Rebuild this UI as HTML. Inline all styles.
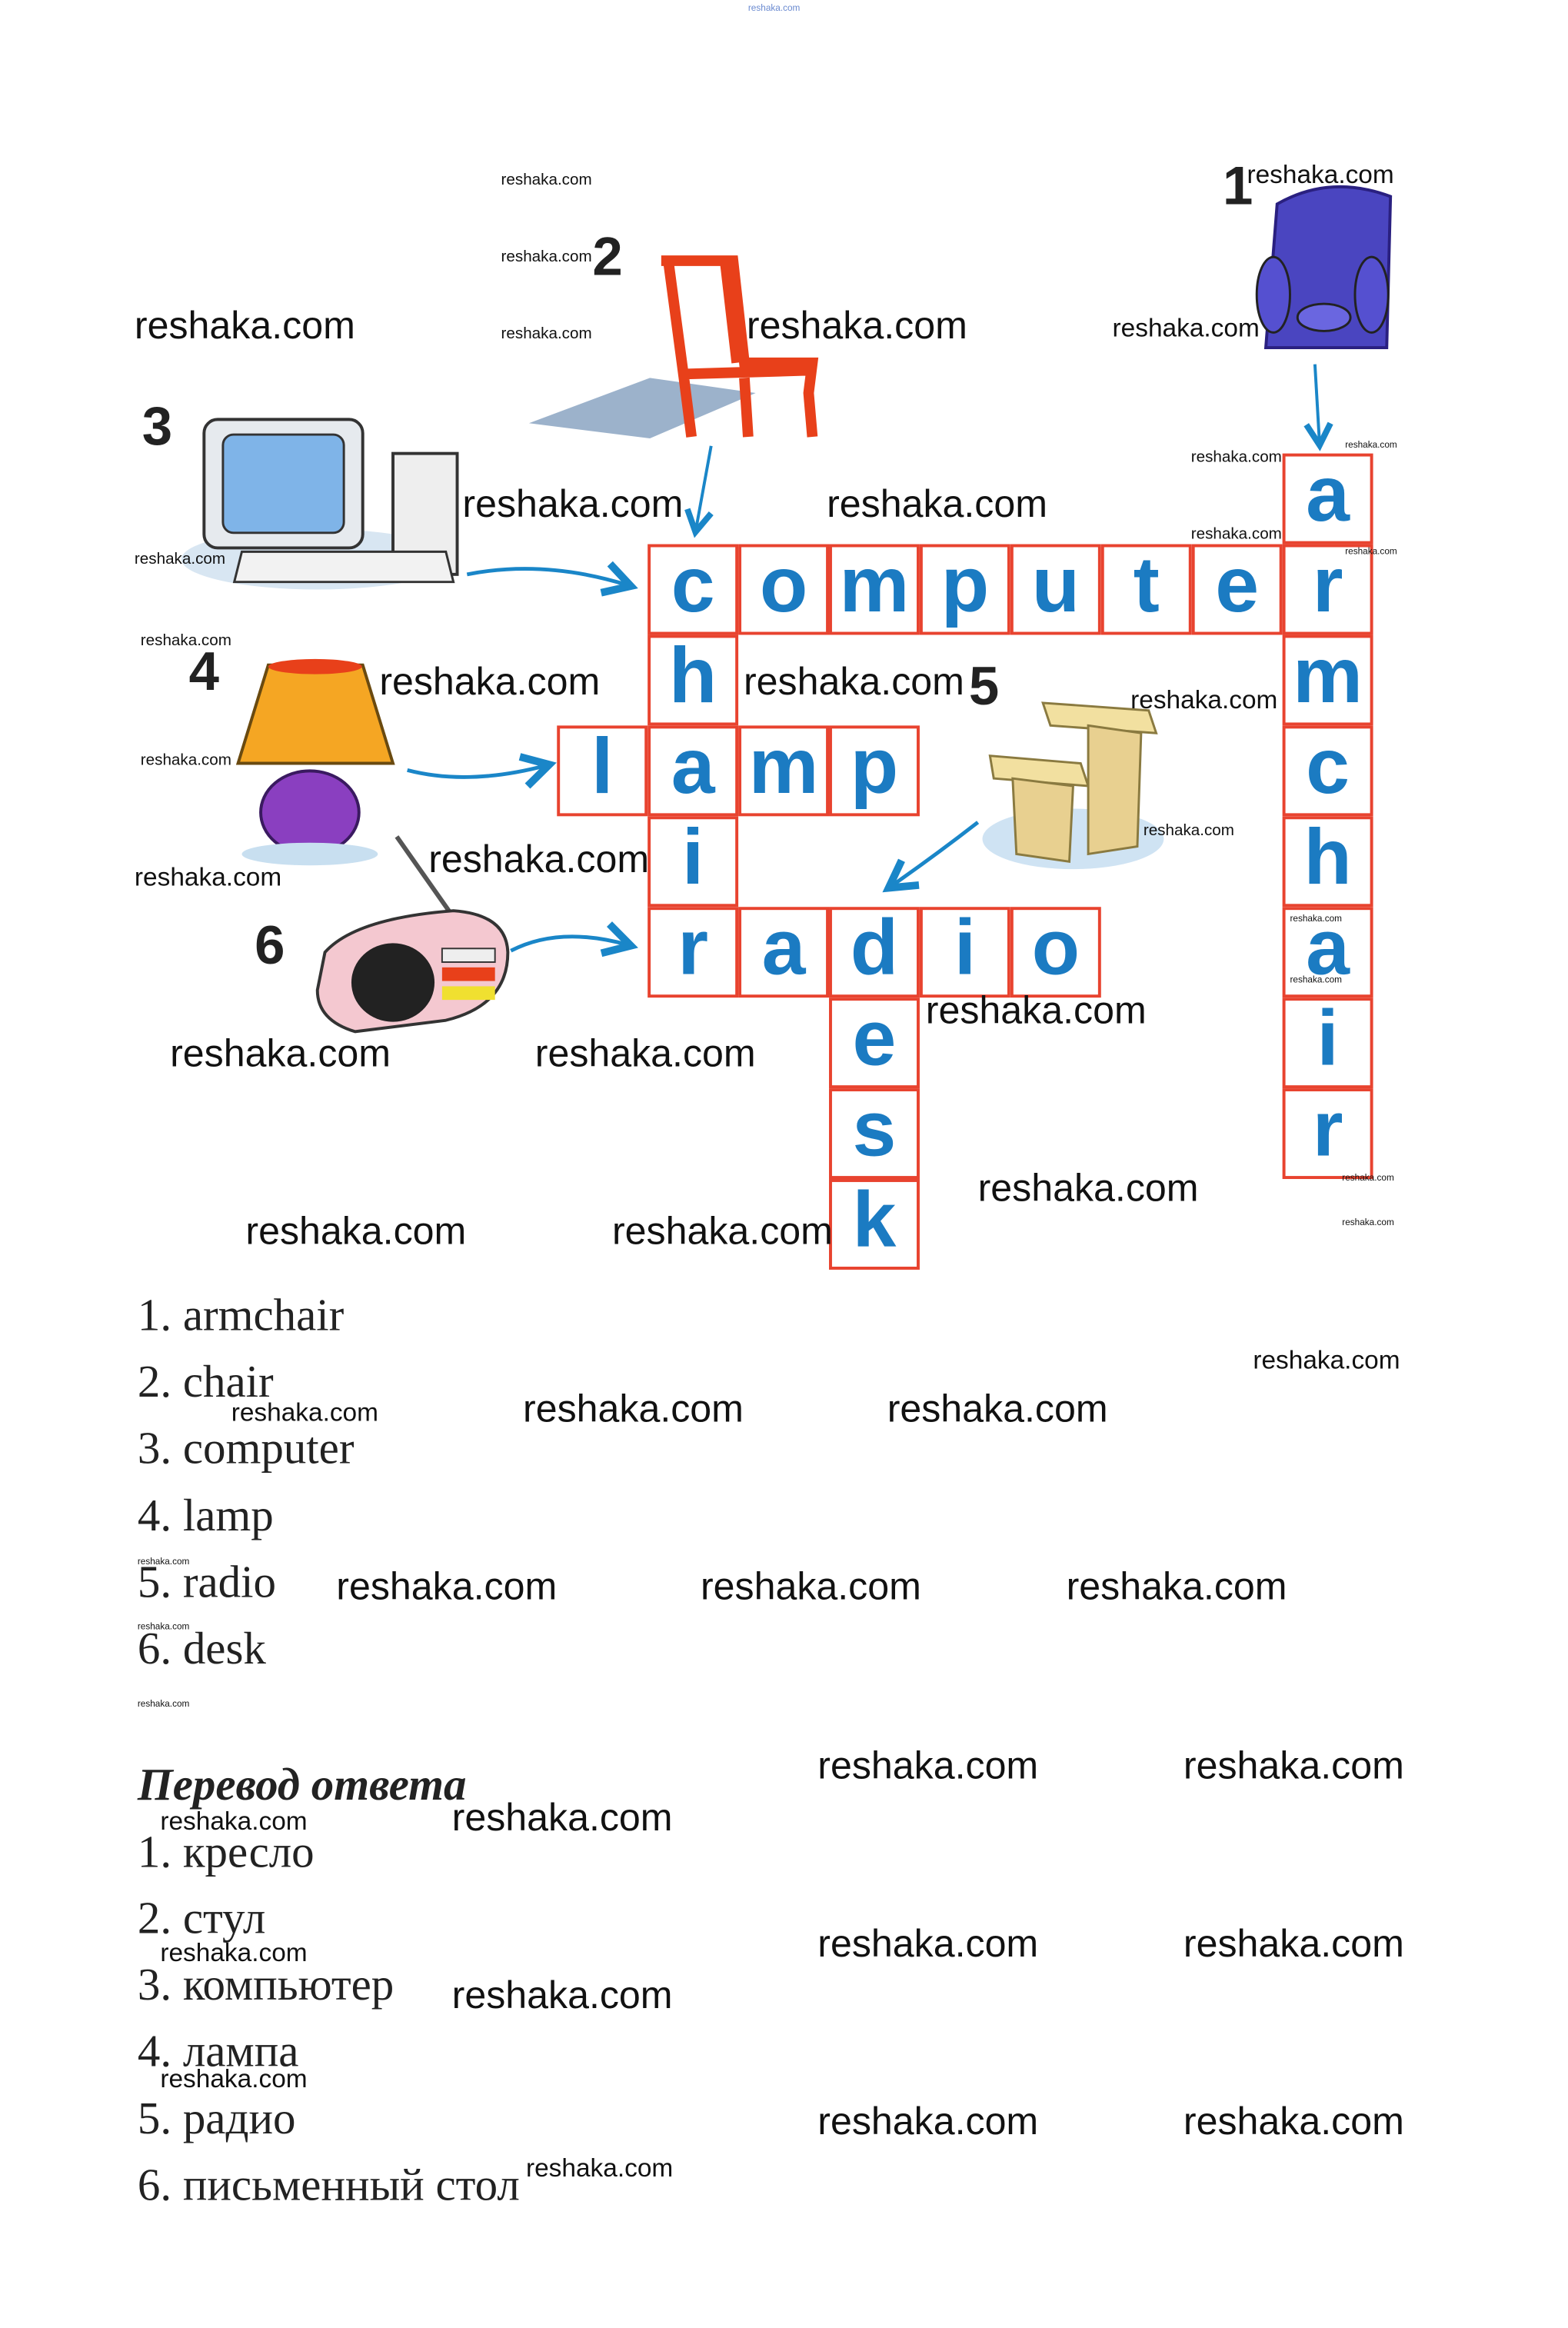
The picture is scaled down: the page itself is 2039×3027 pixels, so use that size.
<!DOCTYPE html>
<html><head><meta charset="utf-8"><style>
body{margin:0;width:2039px;height:3026px;background:#fff;position:relative;overflow:hidden;font-family:"Liberation Sans",sans-serif}
#wrap{position:absolute;left:0;top:0;width:2075px;height:3080px;transform:scale(0.9827);transform-origin:0 0}
.w{position:absolute;color:#111;white-space:nowrap;line-height:1}
.L{font-size:51px}.M{font-size:34px}.S{font-size:21px}.T{font-size:12px}
.n{position:absolute;font-weight:bold;font-size:72px;line-height:1;color:#222}
.c{position:absolute;width:120px;height:120px;box-sizing:border-box;border:4px solid #e8432f;background:#fff;color:#1b7bc2;font-weight:bold;font-size:104px;text-align:center;line-height:100px}
.t{position:absolute;left:182px;font-family:"Liberation Serif","Noto Serif CJK SC",serif;font-size:60px;line-height:1;color:#222;white-space:nowrap}
</style></head><body><div id="wrap">
<svg style="position:absolute;left:0;top:0" width="2075" height="3080">
<defs><marker id="ar" markerWidth="10" markerHeight="10" refX="7" refY="5" orient="auto"><path d="M1,1 L8,5 L1,9" fill="none" stroke="#1a86c8" stroke-width="2"/></marker></defs>
<path d="M1690,270 Q1760,230 1840,260 L1835,460 L1675,460 Z" fill="#4a45c0" stroke="#2a2080" stroke-width="4"/>
<ellipse cx="1685" cy="390" rx="22" ry="50" fill="#5550d0" stroke="#222" stroke-width="3"/>
<ellipse cx="1815" cy="390" rx="22" ry="50" fill="#5550d0" stroke="#222" stroke-width="3"/>
<ellipse cx="1752" cy="420" rx="35" ry="18" fill="#6a66e0" stroke="#222" stroke-width="3"/>
<path d="M1740,482 L1746,585" stroke="#1a86c8" stroke-width="4" fill="none" marker-end="url(#ar)"/>
<polygon points="700,560 860,500 1000,520 860,580" fill="#5a7fa8" opacity="0.6"/>
<path d="M875,345 L970,345 L985,480 L1075,480 L1070,520 L1075,578 M885,350 L905,500 M960,350 L975,480 M905,500 L915,578 M985,500 L990,578 M905,495 L1070,490" stroke="#e8401a" stroke-width="14" fill="none"/>
<path d="M941,590 L921,700" stroke="#1a86c8" stroke-width="4" fill="none" marker-end="url(#ar)"/>
<ellipse cx="420" cy="740" rx="180" ry="40" fill="#d8e6f2"/>
<rect x="270" y="555" width="210" height="170" rx="18" fill="#e6eaee" stroke="#333" stroke-width="4"/>
<rect x="295" y="575" width="160" height="130" rx="14" fill="#7fb4e8" stroke="#333" stroke-width="3"/>
<rect x="520" y="600" width="85" height="160" fill="#eee" stroke="#333" stroke-width="4"/>
<polygon points="320,730 590,730 600,770 310,770" fill="#f2f2f2" stroke="#333" stroke-width="3"/>
<path d="M618,760 Q720,740 830,774" stroke="#1a86c8" stroke-width="5" fill="none" marker-end="url(#ar)"/>
<polygon points="355,880 480,880 520,1010 315,1010" fill="#f5a623" stroke="#6a4a10" stroke-width="4"/>
<ellipse cx="417" cy="882" rx="62" ry="10" fill="#e8401a"/>
<ellipse cx="410" cy="1075" rx="65" ry="55" fill="#8a3fc0" stroke="#3a1a60" stroke-width="4"/>
<ellipse cx="410" cy="1130" rx="90" ry="15" fill="#c8dff0"/>
<path d="M539,1019 Q620,1040 722,1013" stroke="#1a86c8" stroke-width="5" fill="none" marker-end="url(#ar)"/>
<line x1="525" y1="1107" x2="608" y2="1225" stroke="#555" stroke-width="6"/>
<path d="M430,1260 Q470,1215 600,1205 Q670,1210 672,1260 Q672,1330 590,1350 L470,1365 Q420,1350 420,1310 Z" fill="#f4c8d0" stroke="#333" stroke-width="4"/>
<ellipse cx="520" cy="1300" rx="55" ry="52" fill="#222"/>
<rect x="585" y="1255" width="70" height="18" fill="#eee" stroke="#333" stroke-width="2"/>
<rect x="585" y="1280" width="70" height="18" fill="#e8401a"/>
<rect x="585" y="1305" width="70" height="18" fill="#f0e030"/>
<path d="M676,1258 Q740,1225 830,1250" stroke="#1a86c8" stroke-width="5" fill="none" marker-end="url(#ar)"/>
<ellipse cx="1420" cy="1110" rx="120" ry="40" fill="#cfe3f3"/>
<polygon points="1380,930 1520,940 1530,970 1390,960" fill="#f2e0a0" stroke="#8a7a40" stroke-width="3"/>
<polygon points="1310,1000 1430,1010 1440,1040 1315,1030" fill="#f2e0a0" stroke="#8a7a40" stroke-width="3"/>
<polygon points="1440,960 1510,970 1505,1120 1440,1130" fill="#e8d090" stroke="#8a7a40" stroke-width="3"/>
<polygon points="1340,1030 1420,1040 1415,1140 1345,1130" fill="#e8d090" stroke="#8a7a40" stroke-width="3"/>
<path d="M1294,1088 Q1240,1130 1180,1172" stroke="#1a86c8" stroke-width="5" fill="none" marker-end="url(#ar)"/>
</svg>

<div class="c" style="left:857px;top:720px">c</div><div class="c" style="left:977px;top:720px">o</div><div class="c" style="left:1097px;top:720px">m</div><div class="c" style="left:1217px;top:720px">p</div><div class="c" style="left:1337px;top:720px">u</div><div class="c" style="left:1457px;top:720px">t</div><div class="c" style="left:1577px;top:720px">e</div><div class="c" style="left:1697px;top:720px">r</div>
<div class="c" style="left:1697px;top:600px">a</div><div class="c" style="left:1697px;top:840px">m</div><div class="c" style="left:1697px;top:960px">c</div><div class="c" style="left:1697px;top:1080px">h</div><div class="c" style="left:1697px;top:1200px">a</div><div class="c" style="left:1697px;top:1320px">i</div><div class="c" style="left:1697px;top:1440px">r</div>
<div class="c" style="left:857px;top:840px">h</div><div class="c" style="left:857px;top:1080px">i</div>
<div class="c" style="left:737px;top:960px">l</div><div class="c" style="left:857px;top:960px">a</div><div class="c" style="left:977px;top:960px">m</div><div class="c" style="left:1097px;top:960px">p</div>
<div class="c" style="left:857px;top:1200px">r</div><div class="c" style="left:977px;top:1200px">a</div><div class="c" style="left:1097px;top:1200px">d</div><div class="c" style="left:1217px;top:1200px">i</div><div class="c" style="left:1337px;top:1200px">o</div>
<div class="c" style="left:1097px;top:1320px">e</div><div class="c" style="left:1097px;top:1440px">s</div><div class="c" style="left:1097px;top:1560px">k</div>

<div class="n" style="left:1618px;top:210px">1</div><div class="n" style="left:784px;top:304px">2</div><div class="n" style="left:188px;top:528px">3</div><div class="n" style="left:250px;top:853px">4</div><div class="n" style="left:1282px;top:872px">5</div><div class="n" style="left:337px;top:1215px">6</div>

<div class="w T" style="left:990px;top:4px;color:#6a8ad0">reshaka.com</div>
<div class="w L" style="left:178px;top:405px">reshaka.com</div><div class="w L" style="left:988px;top:405px">reshaka.com</div>
<div class="w L" style="left:612px;top:641px">reshaka.com</div><div class="w L" style="left:1094px;top:641px">reshaka.com</div>
<div class="w L" style="left:502px;top:876px">reshaka.com</div><div class="w L" style="left:984px;top:876px">reshaka.com</div>
<div class="w L" style="left:567px;top:1111px">reshaka.com</div>
<div class="w L" style="left:225px;top:1368px">reshaka.com</div><div class="w L" style="left:708px;top:1368px">reshaka.com</div>
<div class="w L" style="left:1225px;top:1311px">reshaka.com</div><div class="w L" style="left:1294px;top:1546px">reshaka.com</div>
<div class="w L" style="left:325px;top:1603px">reshaka.com</div><div class="w L" style="left:810px;top:1603px">reshaka.com</div>
<div class="w L" style="left:692px;top:1838px">reshaka.com</div><div class="w L" style="left:1174px;top:1838px">reshaka.com</div>
<div class="w L" style="left:445px;top:2073px">reshaka.com</div><div class="w L" style="left:927px;top:2073px">reshaka.com</div><div class="w L" style="left:1411px;top:2073px">reshaka.com</div>
<div class="w L" style="left:1082px;top:2310px">reshaka.com</div><div class="w L" style="left:1566px;top:2310px">reshaka.com</div>
<div class="w L" style="left:598px;top:2379px">reshaka.com</div>
<div class="w L" style="left:1082px;top:2546px">reshaka.com</div><div class="w L" style="left:1566px;top:2546px">reshaka.com</div>
<div class="w L" style="left:598px;top:2614px">reshaka.com</div>
<div class="w L" style="left:1082px;top:2781px">reshaka.com</div><div class="w L" style="left:1566px;top:2781px">reshaka.com</div>

<div class="w M" style="left:1472px;top:417px">reshaka.com</div><div class="w M" style="left:1650px;top:214px">reshaka.com</div>
<div class="w M" style="left:1496px;top:909px">reshaka.com</div><div class="w M" style="left:178px;top:1144px">reshaka.com</div>
<div class="w M" style="left:1658px;top:1783px">reshaka.com</div><div class="w M" style="left:306px;top:1852px">reshaka.com</div>
<div class="w M" style="left:212px;top:2393px">reshaka.com</div><div class="w M" style="left:212px;top:2567px">reshaka.com</div>
<div class="w M" style="left:212px;top:2734px">reshaka.com</div><div class="w M" style="left:696px;top:2852px">reshaka.com</div>

<div class="w S" style="left:663px;top:227px">reshaka.com</div><div class="w S" style="left:663px;top:329px">reshaka.com</div><div class="w S" style="left:663px;top:431px">reshaka.com</div>
<div class="w S" style="left:1576px;top:594px">reshaka.com</div><div class="w S" style="left:1576px;top:696px">reshaka.com</div>
<div class="w S" style="left:178px;top:729px">reshaka.com</div><div class="w S" style="left:186px;top:837px">reshaka.com</div><div class="w S" style="left:186px;top:995px">reshaka.com</div>
<div class="w S" style="left:1513px;top:1088px">reshaka.com</div>

<div class="w T" style="left:1780px;top:582px">reshaka.com</div><div class="w T" style="left:1780px;top:723px">reshaka.com</div>
<div class="w T" style="left:1707px;top:1209px">reshaka.com</div><div class="w T" style="left:1707px;top:1290px">reshaka.com</div>
<div class="w T" style="left:1776px;top:1552px">reshaka.com</div><div class="w T" style="left:1776px;top:1611px">reshaka.com</div>
<div class="w T" style="left:182px;top:2060px">reshaka.com</div><div class="w T" style="left:182px;top:2146px">reshaka.com</div><div class="w T" style="left:182px;top:2248px">reshaka.com</div>

<div class="t" style="top:1710px">1. armchair</div>
<div class="t" style="top:1798px">2. chair</div>
<div class="t" style="top:1886px">3. computer</div>
<div class="t" style="top:1975px">4. lamp</div>
<div class="t" style="top:2063px">5. radio</div>
<div class="t" style="top:2151px">6. desk</div>
<div class="t" style="top:2331px;font-weight:bold;font-style:italic">Перевод ответа</div>
<div class="t" style="top:2420px">1. кресло</div>
<div class="t" style="top:2508px">2. стул</div>
<div class="t" style="top:2596px">3. компьютер</div>
<div class="t" style="top:2684px">4. лампа</div>
<div class="t" style="top:2773px">5. радио</div>
<div class="t" style="top:2861px">6. письменный стол</div>
</div></body></html>
